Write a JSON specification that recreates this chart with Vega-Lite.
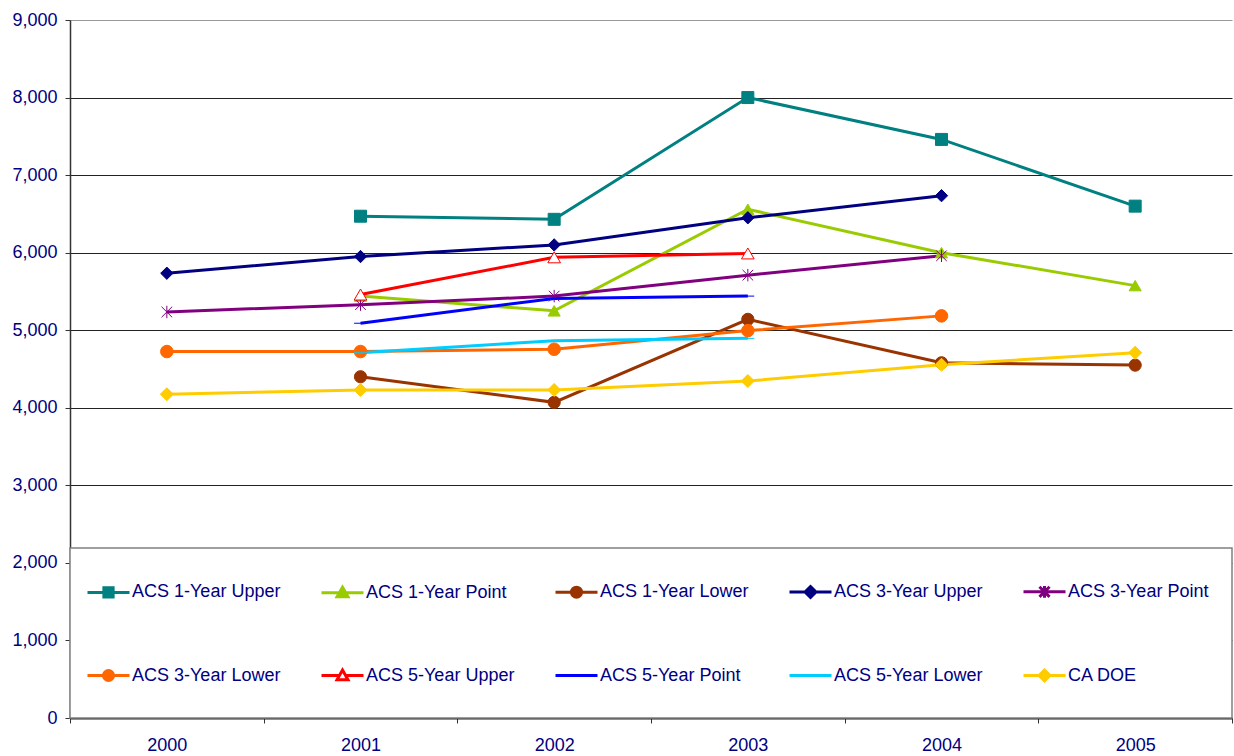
{
  "$schema": "https://vega.github.io/schema/vega-lite/v6.json",
  "width": 1162,
  "height": 698,
  "autosize": {"type": "none"},
  "padding": {"left": 70, "top": 20, "right": 2, "bottom": 38},
  "background": "white",
  "config": {
    "view": {"stroke": null},
    "font": "Liberation Sans"
  },
  "data": {
    "values": [
      {"year": "2001", "series": "ACS 1-Year Upper", "value": 6470},
      {"year": "2002", "series": "ACS 1-Year Upper", "value": 6430},
      {"year": "2003", "series": "ACS 1-Year Upper", "value": 8000},
      {"year": "2004", "series": "ACS 1-Year Upper", "value": 7460},
      {"year": "2005", "series": "ACS 1-Year Upper", "value": 6600},
      {"year": "2001", "series": "ACS 1-Year Point", "value": 5440},
      {"year": "2002", "series": "ACS 1-Year Point", "value": 5250},
      {"year": "2003", "series": "ACS 1-Year Point", "value": 6560},
      {"year": "2004", "series": "ACS 1-Year Point", "value": 6000},
      {"year": "2005", "series": "ACS 1-Year Point", "value": 5575},
      {"year": "2001", "series": "ACS 1-Year Lower", "value": 4400},
      {"year": "2002", "series": "ACS 1-Year Lower", "value": 4070},
      {"year": "2003", "series": "ACS 1-Year Lower", "value": 5140},
      {"year": "2004", "series": "ACS 1-Year Lower", "value": 4580},
      {"year": "2005", "series": "ACS 1-Year Lower", "value": 4550},
      {"year": "2000", "series": "ACS 3-Year Upper", "value": 5735},
      {"year": "2001", "series": "ACS 3-Year Upper", "value": 5950},
      {"year": "2002", "series": "ACS 3-Year Upper", "value": 6100},
      {"year": "2003", "series": "ACS 3-Year Upper", "value": 6450},
      {"year": "2004", "series": "ACS 3-Year Upper", "value": 6735},
      {"year": "2000", "series": "ACS 3-Year Point", "value": 5235},
      {"year": "2001", "series": "ACS 3-Year Point", "value": 5330},
      {"year": "2002", "series": "ACS 3-Year Point", "value": 5440},
      {"year": "2003", "series": "ACS 3-Year Point", "value": 5710},
      {"year": "2004", "series": "ACS 3-Year Point", "value": 5960},
      {"year": "2000", "series": "ACS 3-Year Lower", "value": 4725},
      {"year": "2001", "series": "ACS 3-Year Lower", "value": 4725},
      {"year": "2002", "series": "ACS 3-Year Lower", "value": 4755},
      {"year": "2003", "series": "ACS 3-Year Lower", "value": 4995},
      {"year": "2004", "series": "ACS 3-Year Lower", "value": 5185},
      {"year": "2001", "series": "ACS 5-Year Upper", "value": 5460},
      {"year": "2002", "series": "ACS 5-Year Upper", "value": 5940},
      {"year": "2003", "series": "ACS 5-Year Upper", "value": 5990},
      {"year": "2001", "series": "ACS 5-Year Point", "value": 5090},
      {"year": "2002", "series": "ACS 5-Year Point", "value": 5410},
      {"year": "2003", "series": "ACS 5-Year Point", "value": 5440},
      {"year": "2001", "series": "ACS 5-Year Lower", "value": 4710},
      {"year": "2002", "series": "ACS 5-Year Lower", "value": 4865},
      {"year": "2003", "series": "ACS 5-Year Lower", "value": 4895},
      {"year": "2000", "series": "CA DOE", "value": 4175},
      {"year": "2001", "series": "CA DOE", "value": 4230},
      {"year": "2002", "series": "CA DOE", "value": 4230},
      {"year": "2003", "series": "CA DOE", "value": 4345},
      {"year": "2004", "series": "CA DOE", "value": 4555},
      {"year": "2005", "series": "CA DOE", "value": 4710}
    ]
  },
  "encoding": {
    "x": {
      "field": "year",
      "type": "nominal",
      "scale": {"type": "band", "domain": ["2000", "2001", "2002", "2003", "2004", "2005"], "paddingInner": 0, "paddingOuter": 0},
      "axis": {
        "title": null,
        "labelAngle": 0,
        "labelFont": "Liberation Sans",
        "labelFontSize": 18,
        "labelColor": "#000080",
        "tickBand": "extent",
        "domainColor": "#222222",
        "domainWidth": 2,
        "tickColor": "#333333",
        "tickSize": 5,
        "labelPadding": 13,
        "grid": false
      }
    },
    "y": {
      "field": "value",
      "type": "quantitative",
      "scale": {"domain": [0, 9000], "nice": false},
      "axis": {
        "title": null,
        "values": [0, 1000, 2000, 3000, 4000, 5000, 6000, 7000, 8000, 9000],
        "format": ",.0f",
        "labelFont": "Liberation Sans",
        "labelFontSize": 18,
        "labelColor": "#000080",
        "grid": true,
        "gridColor": {"condition": {"test": "datum.value === 9000", "value": "#999999"}, "value": "#222222"},
        "gridWidth": 1,
        "domainColor": "#333333",
        "domainWidth": 1.5,
        "tickColor": "#333333",
        "tickSize": 5,
        "labelPadding": 8
      }
    }
  },
  "resolve": {
    "scale": {"shape": "independent", "fill": "independent", "stroke": "independent", "size": "independent", "strokeWidth": "independent"}
  },
  "layer": [
    {
      "data": {"values": [{"lo": 0, "hi": 2192}]},
      "mark": {"type": "rect", "fill": "white", "stroke": "#808080", "strokeWidth": 1.5},
      "encoding": {
        "x": null,
        "y": {"field": "lo", "type": "quantitative"},
        "y2": {"field": "hi"}
      }
    },
    {
      "mark": {"type": "line", "strokeWidth": 3},
      "encoding": {
        "color": {
          "field": "series",
          "type": "nominal",
          "scale": {
            "domain": ["ACS 1-Year Upper", "ACS 1-Year Point", "ACS 1-Year Lower", "ACS 3-Year Upper", "ACS 3-Year Point", "ACS 3-Year Lower", "ACS 5-Year Upper", "ACS 5-Year Point", "ACS 5-Year Lower", "CA DOE"],
            "range": ["#008080", "#99CC00", "#993300", "#000080", "#800080", "#FF6600", "#FF0000", "#0000FF", "#00CCFF", "#FFCC00"]
          },
          "legend": null
        }
      }
    },
    {
      "mark": {"type": "point", "filled": true, "opacity": 1},
      "encoding": {
        "shape": {
          "field": "series",
          "type": "nominal",
          "scale": {
            "domain": ["ACS 1-Year Upper", "ACS 1-Year Point", "ACS 1-Year Lower", "ACS 3-Year Upper", "ACS 3-Year Point", "ACS 3-Year Lower", "ACS 5-Year Upper", "ACS 5-Year Point", "ACS 5-Year Lower", "CA DOE"],
            "range": ["square", "triangle-up", "circle", "diamond", "M0,-1V1M-0.85,-0.85L0.85,0.85M-0.85,0.85L0.85,-0.85", "circle", "triangle-up", "M-1,0H1", "M-1,0H1", "diamond"]
          },
          "legend": null
        },
        "size": {
          "field": "series",
          "type": "nominal",
          "scale": {
            "domain": ["ACS 1-Year Upper", "ACS 1-Year Point", "ACS 1-Year Lower", "ACS 3-Year Upper", "ACS 3-Year Point", "ACS 3-Year Lower", "ACS 5-Year Upper", "ACS 5-Year Point", "ACS 5-Year Lower", "CA DOE"],
            "range": [144, 169, 196, 169, 196, 196, 169, 256, 256, 169]
          },
          "legend": null
        },
        "strokeWidth": {
          "field": "series",
          "type": "nominal",
          "scale": {
            "domain": ["ACS 1-Year Upper", "ACS 1-Year Point", "ACS 1-Year Lower", "ACS 3-Year Upper", "ACS 3-Year Point", "ACS 3-Year Lower", "ACS 5-Year Upper", "ACS 5-Year Point", "ACS 5-Year Lower", "CA DOE"],
            "range": [1, 1, 1, 1, 1.5, 1, 1.5, 4, 4, 1]
          },
          "legend": null
        },
        "fill": {
          "field": "series",
          "type": "nominal",
          "scale": {
            "domain": ["ACS 1-Year Upper", "ACS 1-Year Point", "ACS 1-Year Lower", "ACS 3-Year Upper", "ACS 3-Year Point", "ACS 3-Year Lower", "ACS 5-Year Upper", "ACS 5-Year Point", "ACS 5-Year Lower", "CA DOE"],
            "range": ["#008080", "#99CC00", "#993300", "#000080", "#800080", "#FF6600", "#FFFFFF", "#0000FF", "#00CCFF", "#FFCC00"]
          },
          "legend": null
        },
        "stroke": {
          "field": "series",
          "type": "nominal",
          "scale": {
            "domain": ["ACS 1-Year Upper", "ACS 1-Year Point", "ACS 1-Year Lower", "ACS 3-Year Upper", "ACS 3-Year Point", "ACS 3-Year Lower", "ACS 5-Year Upper", "ACS 5-Year Point", "ACS 5-Year Lower", "CA DOE"],
            "range": ["#008080", "#99CC00", "#993300", "#000080", "#800080", "#FF6600", "#FF0000", "#0000FF", "#00CCFF", "#FFCC00"]
          },
          "legend": null
        }
      }
    },
    {
      "mark": {"type": "point", "filled": true, "opacity": 0},
      "encoding": {
        "shape": {
          "field": "series",
          "type": "nominal",
          "scale": {
            "domain": ["ACS 1-Year Upper", "ACS 1-Year Point", "ACS 1-Year Lower", "ACS 3-Year Upper", "ACS 3-Year Point", "ACS 3-Year Lower", "ACS 5-Year Upper", "ACS 5-Year Point", "ACS 5-Year Lower", "CA DOE"],
            "range": [
              "M-1,0H1M-0.22,-0.22H0.22V0.22H-0.22Z",
              "M-1,0H1M0,-0.26L0.26,0.2H-0.26Z",
              "M-1,0H1M-0.24,0A0.24,0.24,0,1,0,0.24,0A0.24,0.24,0,1,0,-0.24,0Z",
              "M-1,0H1M0,-0.26L0.26,0L0,0.26L-0.26,0Z",
              "M-1,0H1M0,-0.28V0.28M-0.24,-0.24L0.24,0.24M-0.24,0.24L0.24,-0.24",
              "M-1,0H1M-0.24,0A0.24,0.24,0,1,0,0.24,0A0.24,0.24,0,1,0,-0.24,0Z",
              "M-1,0H-0.14M0.14,0H1M0,-0.26L0.26,0.2H-0.26Z",
              "M-1,0H1",
              "M-1,0H1",
              "M-1,0H1M0,-0.26L0.26,0L0,0.26L-0.26,0Z"
            ]
          },
          "legend": {
            "orient": "none",
            "legendX": 16,
            "legendY": 549,
            "direction": "horizontal",
            "columns": 5,
            "title": null,
            "padding": 0,
            "symbolSize": 1764,
            "symbolStrokeWidth": 3,
            "symbolOpacity": 1,
            "labelFont": "Liberation Sans",
            "labelFontSize": 18,
            "labelColor": "#000080",
            "labelLimit": 300,
            "labelOffset": 1,
            "gridAlign": "all",
            "columnPadding": 34,
            "rowPadding": 49
          }
        },
        "fill": {
          "field": "series",
          "type": "nominal",
          "scale": {
            "domain": ["ACS 1-Year Upper", "ACS 1-Year Point", "ACS 1-Year Lower", "ACS 3-Year Upper", "ACS 3-Year Point", "ACS 3-Year Lower", "ACS 5-Year Upper", "ACS 5-Year Point", "ACS 5-Year Lower", "CA DOE"],
            "range": ["#008080", "#99CC00", "#993300", "#000080", "#800080", "#FF6600", "#FFFFFF", "#0000FF", "#00CCFF", "#FFCC00"]
          },
          "legend": null
        },
        "stroke": {
          "field": "series",
          "type": "nominal",
          "scale": {
            "domain": ["ACS 1-Year Upper", "ACS 1-Year Point", "ACS 1-Year Lower", "ACS 3-Year Upper", "ACS 3-Year Point", "ACS 3-Year Lower", "ACS 5-Year Upper", "ACS 5-Year Point", "ACS 5-Year Lower", "CA DOE"],
            "range": ["#008080", "#99CC00", "#993300", "#000080", "#800080", "#FF6600", "#FF0000", "#0000FF", "#00CCFF", "#FFCC00"]
          },
          "legend": null
        }
      }
    }
  ]
}
